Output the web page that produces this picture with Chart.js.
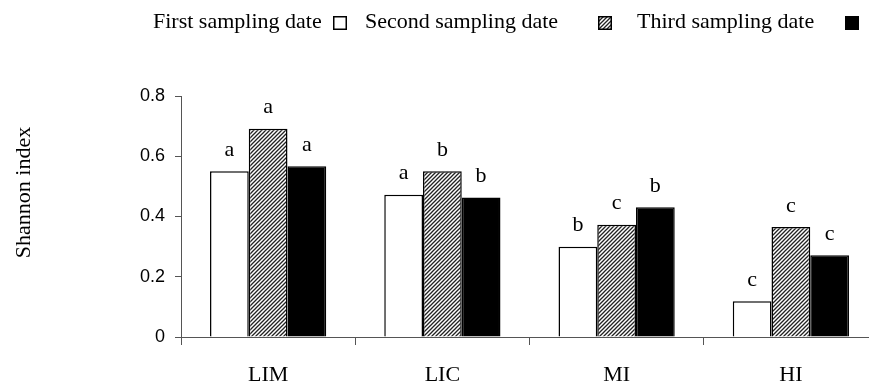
<!DOCTYPE html>
<html><head><meta charset="utf-8">
<script src="https://cdn.jsdelivr.net/npm/chart.js@4/dist/chart.umd.min.js"></script>
<style>html,body{margin:0;padding:0;background:#fff;overflow:hidden;width:869px;height:385px}canvas{display:block}</style>
</head><body>
<canvas id="c" width="880" height="385"></canvas>
<script>
const categories = ['LIM', 'LIC', 'MI', 'HI'];
const seriesNames = ['First sampling date', 'Second sampling date', 'Third sampling date'];
const firstValues = [0.550, 0.472, 0.300, 0.119];
const secondValues = [0.691, 0.550, 0.373, 0.365];
const thirdValues = [0.567, 0.463, 0.431, 0.271];
const firstLetters = ['a', 'a', 'b', 'c'];
const secondLetters = ['a', 'b', 'c', 'c'];
const thirdLetters = ['a', 'b', 'b', 'c'];
const yTickLabels = ['0', '0.2', '0.4', '0.6', '0.8'];
const yTitle = 'Shannon index';

const letterSets = [firstLetters, secondLetters, thirdLetters];

function makeHatch() {
  const p = document.createElement('canvas');
  p.width = 4; p.height = 4;
  const g = p.getContext('2d');
  g.fillStyle = '#fff'; g.fillRect(0, 0, 4, 4);
  g.strokeStyle = '#222'; g.lineWidth = 1.3;
  g.beginPath();
  g.moveTo(-1, 5); g.lineTo(5, -1);
  g.moveTo(-1, 1); g.lineTo(1, -1);
  g.moveTo(3, 5); g.lineTo(5, 3);
  g.stroke();
  return g.createPattern(p, 'repeat');
}
const hatch = makeHatch();
const fills = ['#ffffff', hatch, '#000000'];

const serif = '"Liberation Serif", "Times New Roman", serif';

const letterPlugin = {
  id: 'letters',
  afterDatasetsDraw(chart) {
    const ctx = chart.ctx;
    ctx.save();
    ctx.font = '22px ' + serif;
    ctx.fillStyle = '#000';
    ctx.textAlign = 'center';
    ctx.textBaseline = 'alphabetic';
    chart.data.datasets.forEach((ds, i) => {
      chart.getDatasetMeta(i).data.forEach((bar, j) => {
        ctx.fillText(letterSets[i][j], bar.x, bar.y - 15.5);
      });
    });
    ctx.restore();
  }
};

const legendPlugin = {
  id: 'customLegend',
  afterDraw(chart) {
    const ctx = chart.ctx;
    const textX = [153, 365, 637];
    const boxX = [333, 598, 845];
    ctx.save();
    ctx.font = '22px ' + serif;
    ctx.fillStyle = '#000';
    ctx.textAlign = 'left';
    ctx.textBaseline = 'alphabetic';
    chart.data.datasets.forEach((ds, i) => {
      ctx.fillStyle = '#000';
      ctx.fillText(ds.label, textX[i], 28);
      ctx.fillStyle = ds.backgroundColor;
      ctx.fillRect(boxX[i], 16, 14, 14);
      ctx.strokeStyle = '#000';
      ctx.lineWidth = 1.5;
      ctx.strokeRect(boxX[i] + 0.75, 16.75, 12.5, 12.5);
    });
    ctx.restore();
  }
};

const titlePlugin = {
  id: 'yTitle',
  afterDraw(chart) {
    const ctx = chart.ctx;
    ctx.save();
    ctx.translate(30, 192.5);
    ctx.rotate(-Math.PI / 2);
    ctx.font = '22px ' + serif;
    ctx.fillStyle = '#000';
    ctx.textAlign = 'center';
    ctx.textBaseline = 'alphabetic';
    ctx.fillText(yTitle, 0, 0);
    ctx.restore();
  }
};

const valueSets = [firstValues, secondValues, thirdValues];

new Chart(document.getElementById('c'), {
  type: 'bar',
  data: {
    labels: categories,
    datasets: seriesNames.map((name, i) => ({
      label: name,
      data: valueSets[i],
      backgroundColor: fills[i],
      borderColor: '#000',
      borderWidth: 1.5,
      categoryPercentage: 0.667,
      barPercentage: 1.0
    }))
  },
  options: {
    responsive: false,
    animation: false,
    events: [],
    layout: { padding: { left: 0, right: 2, top: 96, bottom: 0 } },
    plugins: { legend: { display: false }, tooltip: { enabled: false } },
    scales: {
      x: {
        grid: { offset: true, drawOnChartArea: false, drawTicks: true, tickLength: 8, color: '#555', lineWidth: 1 },
        border: { color: '#555', width: 1 },
        ticks: { font: { family: serif, size: 22 }, color: '#000', padding: 17, maxRotation: 0 },
        afterFit(s) { s.height = 48; }
      },
      y: {
        min: 0, max: 0.8,
        ticks: {
          stepSize: 0.2, padding: 10, color: '#000',
          font: { family: '"Liberation Sans", Arial, sans-serif', size: 18 },
          callback: (v, i) => yTickLabels[i]
        },
        grid: { drawOnChartArea: false, drawTicks: true, tickLength: 6, color: '#555' },
        border: { color: '#555', width: 1 },
        afterFit(s) { s.width = 181; }
      }
    }
  },
  plugins: [letterPlugin, legendPlugin, titlePlugin]
});
</script>
</body></html>
